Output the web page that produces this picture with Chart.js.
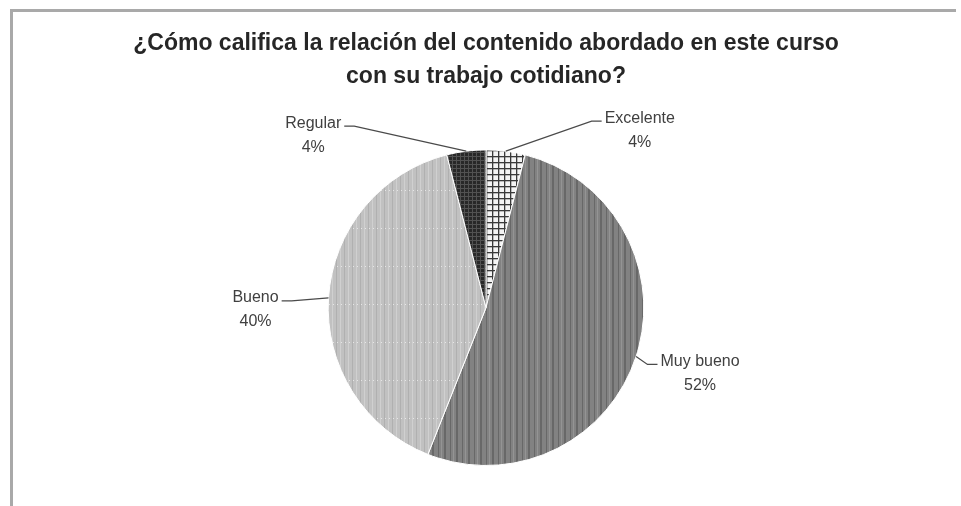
<!DOCTYPE html>
<html>
<head>
<meta charset="utf-8">
<script src="https://cdn.jsdelivr.net/npm/chart.js@4"></script>
<style>
  body { margin: 0; background: #ffffff; }
  #wrap { width: 961px; height: 506px; position: relative; }
</style>
</head>
<body>
<div id="wrap"><canvas id="chartCanvas"></canvas></div>
<script>
/********** DATA **********/
const categories = ["Excelente", "Muy bueno", "Bueno", "Regular"];
const percentages = [4, 52, 40, 4];
const titleLines = [
  "¿Cómo califica la relación del contenido abordado en este curso",
  "con su trabajo cotidiano?"
];

/********** FILL PATTERNS (grayscale, like the printed original) **********/
function makePattern(w, h, paint) {
  const c = document.createElement("canvas");
  c.width = w; c.height = h;
  const g = c.getContext("2d");
  paint(g, w, h);
  return g.createPattern(c, "repeat");
}

// white with dark grid
const gridPattern = makePattern(6, 6, (g, w, h) => {
  g.fillStyle = "#f4f4f4"; g.fillRect(0, 0, w, h);
  g.fillStyle = "#3a3a3a";
  g.fillRect(0, 0, w, 1.3);
  g.fillRect(0, 0, 1.3, h);
});
// gray vertical stripes
const stripePattern = makePattern(12, 10, (g, w, h) => {
  g.fillStyle = "#828282"; g.fillRect(0, 0, w, h);
  g.fillStyle = "#686868";
  g.fillRect(0, 0, 2, h);
  g.fillRect(6, 0, 1, h);
  g.fillStyle = "#949494";
  g.fillRect(9, 0, 1, h);
});
// light gray with faint dots
const dotPattern = makePattern(8, 38, (g, w, h) => {
  g.fillStyle = "#c1c1c1"; g.fillRect(0, 0, w, h);
  g.fillStyle = "#b0b0b0";
  g.fillRect(0, 0, 1, h);
  g.fillStyle = "#d0d0d0";
  g.fillRect(4, 0, 1, h);
  g.fillStyle = "#e6e6e6";
  g.fillRect(1, 0, 1, 1); g.fillRect(5, 0, 1, 1);
});
// near black with fine grid
const darkPattern = makePattern(4, 4, (g, w, h) => {
  g.fillStyle = "#282828"; g.fillRect(0, 0, w, h);
  g.fillStyle = "#525252";
  g.fillRect(0, 0, 1, h);
  g.fillRect(0, 0, w, 1);
});

/********** FRAME + LABELS PLUGIN **********/
const framePlugin = {
  id: "frame",
  beforeDraw(chart) {
    const ctx = chart.ctx;
    ctx.save();
    ctx.fillStyle = "#a9a9a9";
    ctx.fillRect(10, 9, 946, 3);
    ctx.fillRect(10, 9, 3, 497);
    ctx.restore();
  }
};

// text centre offsets from the slice anchor point (styling only)
const labelOffsets = [[134, -21], [64, 17], [-73, 12], [-153, -16]];

const outsideLabels = {
  id: "outsideLabels",
  afterDatasetsDraw(chart) {
    const ctx = chart.ctx;
    const meta = chart.getDatasetMeta(0);
    const data = chart.data.datasets[0].data;
    ctx.save();
    ctx.font = "16px 'Liberation Sans', Arial, sans-serif";
    ctx.textAlign = "center";
    ctx.textBaseline = "middle";
    meta.data.forEach((arc, i) => {
      const p = arc.getProps(["x", "y", "startAngle", "endAngle", "outerRadius"], true);
      const mid = (p.startAngle + p.endAngle) / 2;
      const ax = p.x + Math.cos(mid) * p.outerRadius;
      const ay = p.y + Math.sin(mid) * p.outerRadius;
      const tx = ax + labelOffsets[i][0];
      const ty = ay + labelOffsets[i][1];
      const line1 = chart.data.labels[i];
      const line2 = data[i] + "%";
      const half = ctx.measureText(line1).width / 2;
      const right = tx > ax;
      const ex = right ? tx - half - 3 : tx + half + 3;
      const ey = ty - 9;
      // leader line
      ctx.strokeStyle = "#4a4a4a";
      ctx.lineWidth = 1.2;
      ctx.beginPath();
      ctx.moveTo(ax, ay);
      ctx.lineTo(right ? ex - 10 : ex + 10, ey);
      ctx.lineTo(ex, ey);
      ctx.stroke();
      ctx.fillStyle = "#404040";
      ctx.fillText(line1, tx, ty - 12);
      ctx.fillText(line2, tx, ty + 12);
    });
    ctx.restore();
  }
};

/********** CHART **********/
const ctx = document.getElementById("chartCanvas").getContext("2d");
new Chart(ctx, {
  type: "pie",
  data: {
    labels: categories,
    datasets: [{
      data: percentages,
      backgroundColor: [gridPattern, stripePattern, dotPattern, darkPattern],
      borderColor: "#ffffff",
      borderWidth: 1
    }]
  },
  options: {
    responsive: true,
    maintainAspectRatio: false,
    animation: false,
    layout: { padding: { left: 11, right: 0, top: 10, bottom: 40 } },
    plugins: {
      legend: { display: false },
      tooltip: { enabled: false },
      title: {
        display: true,
        text: titleLines,
        color: "#262626",
        font: { family: "'Liberation Sans', Arial, sans-serif", size: 23, weight: "bold", lineHeight: 1.4 },
        padding: { top: 18, bottom: 57 }
      }
    }
  },
  plugins: [framePlugin, outsideLabels]
});
</script>
</body>
</html>
